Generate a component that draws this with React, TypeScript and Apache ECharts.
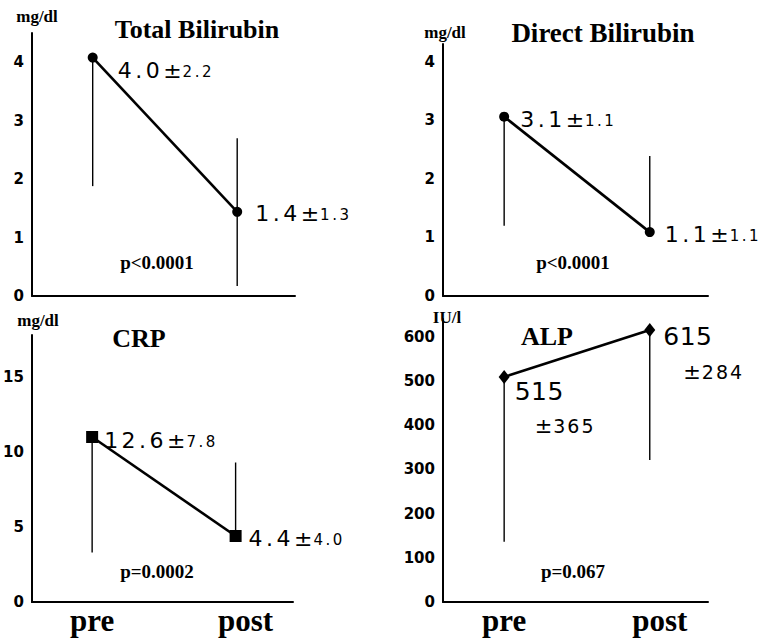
import React, { useEffect, useRef } from 'react';
import * as echarts from 'echarts';

// ---- data ----
const categories = ['pre', 'post'];
const xPos = [1, 2];

const tbMean = [4.08, 1.44];
const tbLow = [1.88, 0.17];
const tbHigh = [4.08, 2.7];
const tbText = ['4.0', '1.4'];
const tbSd = ['2.2', '1.3'];

const dbMean = [3.06, 1.09];
const dbLow = [1.2, 1.09];
const dbHigh = [3.06, 2.39];
const dbText = ['3.1', '1.1'];
const dbSd = ['1.1', '1.1'];

const crpMean = [11.0, 4.4];
const crpLow = [3.3, 4.4];
const crpHigh = [11.0, 9.3];
const crpText = ['12.6', '4.4'];
const crpSd = ['7.8', '4.0'];

const alpMean = [509, 615];
const alpLow = [136, 321];
const alpHigh = [509, 615];
const alpText = ['515', '615'];
const alpSd = ['365', '284'];

const titles = ['Total Bilirubin', 'Direct Bilirubin', 'CRP', 'ALP'];
const units = ['mg/dl', 'mg/dl', 'mg/dl', 'IU/l'];
const pValues = ['p<0.0001', 'p<0.0001', 'p=0.0002', 'p=0.067'];
const yMax = [4.5, 4.3, 17.8, 640];
const yInterval = [1, 1, 5, 100];

// ---- layout / style ----
const grids = [
  { left: 32, top: 33, width: 263, height: 263 },
  { left: 443, top: 44, width: 265, height: 252 },
  { left: 31, top: 335, width: 262, height: 267 },
  { left: 443, top: 319, width: 265, height: 283 },
];
const symbols = ['circle', 'circle', 'rect', 'diamond'];
const symbolSizes: any[] = [10, 10, 12, [11, 14]];
const labelDist = [[20, 13], [11, 10], [6, 7], [5, 8]];
const labelOff = [[[0, 11], [0, 0]], [[0, 1], [0, 0]], [[0, 1], [0, 0]], [[0, 32], [0, 24]]];
const titlePos = [[197, 29], [603, 33], [139, 338], [547, 336]];
const titleSize = [26, 27, 26, 26];
const unitPos = [[37, 16], [445, 32], [38, 320], [447, 317]];
const pPos = [[157, 262], [573, 262], [157, 571], [573, 571]];

const SERIF = '"Liberation Serif", "Times New Roman", serif';
const SANS = '"DejaVu Sans", sans-serif';

const richSmall = {
  a: { fontFamily: SANS, fontSize: 22, color: '#000', verticalAlign: 'bottom', lineHeight: 26, padding: [0, 3.5, 0, 0] },
  b: { fontFamily: SANS, fontSize: 22, color: '#000', verticalAlign: 'bottom', lineHeight: 26, padding: [0, 1, 0, 0] },
  c: { fontFamily: SANS, fontSize: 15, color: '#000', verticalAlign: 'bottom', lineHeight: 26, padding: [0, 2.5, 2, 0] },
};
const richAlp = {
  a: { fontFamily: SANS, fontSize: 25, color: '#000', lineHeight: 35, padding: [0, 0.5, 0, 0] },
  s: { fontFamily: SANS, fontSize: 19, color: '#000', lineHeight: 35, padding: [0, 0, 0, 20] },
  b: { fontFamily: SANS, fontSize: 21, color: '#000', lineHeight: 35, padding: [0, 1, 0, 0] },
  c: { fontFamily: SANS, fontSize: 19, color: '#000', lineHeight: 35, padding: [0, 2, 0, 0] },
};

const panels = [
  { mean: tbMean, low: tbLow, high: tbHigh, text: tbText, sd: tbSd },
  { mean: dbMean, low: dbLow, high: dbHigh, text: dbText, sd: dbSd },
  { mean: crpMean, low: crpLow, high: crpHigh, text: crpText, sd: crpSd },
  { mean: alpMean, low: alpLow, high: alpHigh, text: alpText, sd: alpSd },
];

// each character as its own rich token, to imitate the wide letter spacing
function spaced(str: string, style: string) {
  return str
    .split('')
    .map((ch) => '{' + style + '|' + ch + '}')
    .join('');
}

function textEl(text: string, x: number, y: number, size: number) {
  return {
    type: 'text',
    x,
    y,
    style: {
      text,
      fontFamily: SERIF,
      fontWeight: 'bold',
      fontSize: size,
      fill: '#000',
      align: 'center',
      verticalAlign: 'middle',
      textAlign: 'center',
      textVerticalAlign: 'middle',
    },
  };
}

export default function App() {
  const ref = useRef<HTMLDivElement>(null);

  useEffect(() => {
    if (!ref.current) return;
    const chart = echarts.init(ref.current, undefined, { renderer: 'svg' });

    const xAxis: any[] = [];
    const yAxis: any[] = [];
    const series: any[] = [];
    const graphic: any[] = [];

    panels.forEach((p, i) => {
      const showX = i >= 2;
      xAxis.push({
        type: 'value',
        gridIndex: i,
        min: 0.58,
        max: 2.4,
        axisLine: { show: true, onZero: false, lineStyle: { color: '#000', width: 2 } },
        axisTick: { show: false },
        splitLine: { show: false },
        axisLabel: {
          show: showX,
          customValues: xPos,
          margin: 3,
          formatter: (v: number) => (v === 1 ? '{pre|' + categories[0] + '}' : '{post|' + categories[1] + '}'),
          rich: {
            pre: { fontFamily: SERIF, fontWeight: 'bold', fontSize: 31, color: '#000' },
            post: { fontFamily: SERIF, fontWeight: 'bold', fontSize: 31, color: '#000', padding: [0, 0, 0, 20] },
          },
        },
      });
      yAxis.push({
        type: 'value',
        gridIndex: i,
        min: 0,
        max: yMax[i],
        interval: yInterval[i],
        axisLine: { show: true, lineStyle: { color: '#000', width: 2 } },
        axisTick: { show: false },
        splitLine: { show: false },
        axisLabel: {
          showMaxLabel: false,
          margin: 8,
          fontFamily: SANS,
          fontWeight: 'bold',
          fontSize: 15,
          color: '#000',
        },
      });

      series.push({
        type: 'custom',
        xAxisIndex: i,
        yAxisIndex: i,
        z: 2,
        data: xPos.map((x, k) => [x, p.low[k], p.high[k]]),
        encode: { x: 0, y: [1, 2] },
        renderItem: (_params: any, api: any) => {
          const x = api.value(0);
          const a = api.coord([x, api.value(1)]);
          const b = api.coord([x, api.value(2)]);
          return {
            type: 'line',
            shape: { x1: a[0], y1: a[1], x2: b[0], y2: b[1] },
            style: { stroke: '#000', lineWidth: 1.4 },
          };
        },
      });

      series.push({
        type: 'line',
        xAxisIndex: i,
        yAxisIndex: i,
        z: 3,
        symbol: symbols[i],
        symbolSize: symbolSizes[i],
        itemStyle: { color: '#000' },
        lineStyle: { color: '#000', width: 2.6 },
        data: xPos.map((x, k) => ({
          value: [x, p.mean[k]],
          label: {
            show: true,
            position: 'right',
            distance: labelDist[i][k],
            offset: labelOff[i][k],
            formatter:
              i === 3
                ? spaced(p.text[k], 'a') + '\n{s|}{b|±}' + spaced(p.sd[k], 'c')
                : spaced(p.text[k], 'a') + '{b|±}' + spaced(p.sd[k], 'c'),
            rich: i === 3 ? richAlp : richSmall,
          },
        })),
      });

      graphic.push(textEl(titles[i], titlePos[i][0], titlePos[i][1], titleSize[i]));
      graphic.push(textEl(units[i], unitPos[i][0], unitPos[i][1], 17));
      graphic.push(textEl(pValues[i], pPos[i][0], pPos[i][1], 19));
    });

    chart.setOption({
      animation: false,
      backgroundColor: '#fff',
      grid: grids.map((g) => ({ ...g, containLabel: false })),
      xAxis,
      yAxis,
      series,
      graphic,
    });

    return () => chart.dispose();
  }, []);

  return (
    <div
      ref={ref}
      style={{ position: 'absolute', left: 0, top: 0, width: 764, height: 639, background: '#fff' }}
    />
  );
}
